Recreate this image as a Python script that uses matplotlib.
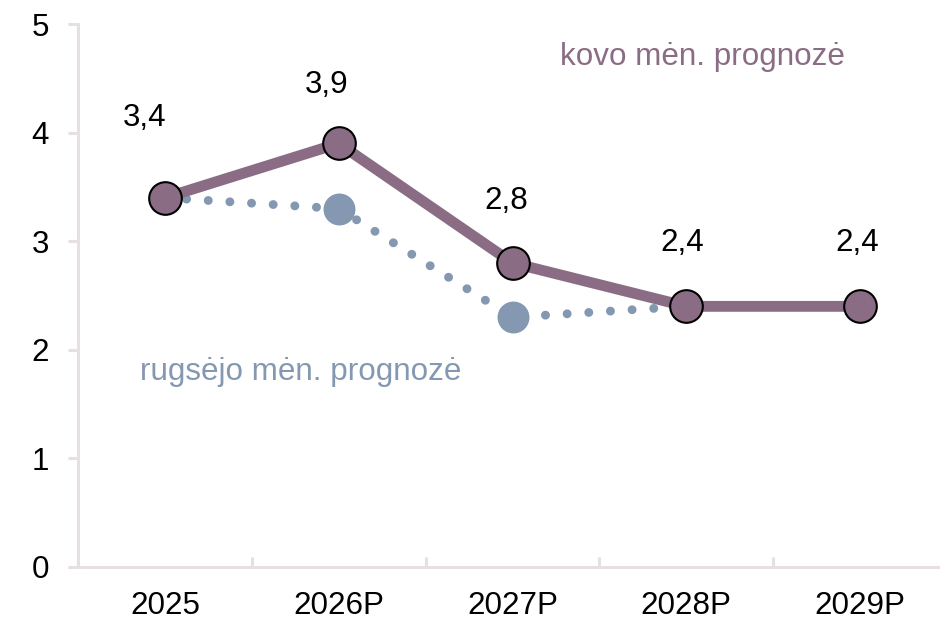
import matplotlib
matplotlib.use("Agg")
import matplotlib.pyplot as plt
from matplotlib.ticker import FixedLocator
import numpy as np

plt.rcParams['font.family'] = ['Liberation Sans', 'DejaVu Sans']

years = ['2025', '2026P', '2027P', '2028P', '2029P']
kovo = [3.4, 3.9, 2.8, 2.4, 2.4]
rugsejo = [3.4, 3.3, 2.3, 2.4]
kovo_labels = ['3,4', '3,9', '2,8', '2,4', '2,4']
label_offsets_px = [(-20, 72), (-12, 50), (-6, 54), (-4, 55), (-3, 55)]

purple = '#8A6D84'
blue = '#8498B1'
spine_col = '#E6DFE3'
fs = 22.6

fig = plt.figure(figsize=(9.4, 6.23), dpi=100)
ax = fig.add_axes([78/940, 56/623, 869/940, 543/623])

x = np.arange(len(years))
xr = np.arange(len(rugsejo))

ax.plot(xr, rugsejo, color=blue, lw=6.4, linestyle=(0, (0.01, 2.43)),
        dash_capstyle='round', marker='o', markersize=23, markeredgewidth=0,
        markerfacecolor=blue, zorder=2)
ax.plot(x, kovo, color=purple, lw=7.8, solid_capstyle='butt',
        marker='o', markersize=23.5, markerfacecolor=purple,
        markeredgecolor='black', markeredgewidth=1.5, zorder=3)

for xi, yi, lab, (dx, dy) in zip(x, kovo, kovo_labels, label_offsets_px):
    ax.annotate(lab, (xi, yi), xytext=(dx, dy), textcoords='offset pixels',
                ha='center', va='baseline', fontsize=fs, color='black')

ax.text(3.09, 4.70, 'kovo mėn. prognozė', color=purple, fontsize=fs,
        ha='center', va='center')
ax.text(0.78, 1.80, 'rugsėjo mėn. prognozė', color=blue, fontsize=fs,
        ha='center', va='center')

ax.set_xlim(-0.5, len(years) - 0.5)
ax.set_ylim(0, 5)
ax.set_yticks([0, 1, 2, 3, 4, 5])
ax.set_xticks(x)
ax.set_xticklabels(years)
ax.xaxis.set_minor_locator(FixedLocator(np.arange(0.5, len(years) - 0.5, 1)))

for s in ['top', 'right']:
    ax.spines[s].set_visible(False)
for s in ['left', 'bottom']:
    ax.spines[s].set_color(spine_col)
    ax.spines[s].set_linewidth(2.2)

ax.tick_params(axis='y', which='major', direction='out', length=7, width=2.2,
               color=spine_col, labelsize=fs, pad=14)
ax.tick_params(axis='x', which='major', length=0, labelsize=fs, pad=17)
ax.tick_params(axis='x', which='minor', direction='in', length=7, width=2.2,
               color=spine_col)

fig.savefig('out.png', dpi=100)
